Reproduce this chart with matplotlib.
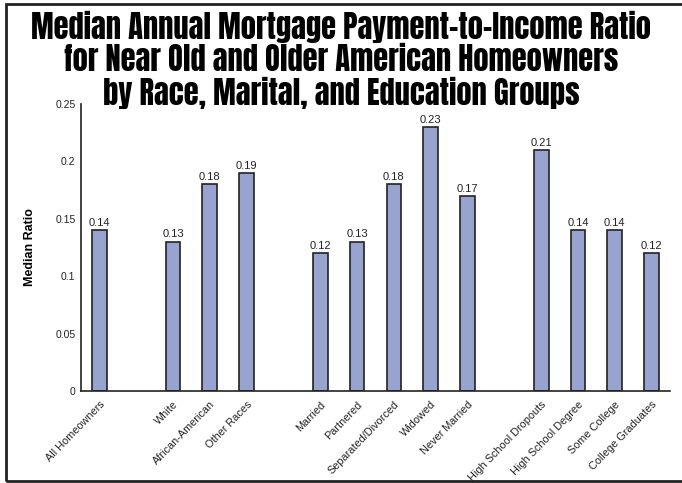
import matplotlib.pyplot as plt
from matplotlib.patches import Rectangle

# Median payment-to-income ratio by group (blank slots separate the groups)
categories = ["All Homeowners", "White", "African-American", "Other Races",
              "Married", "Partnered", "Separated/Divorced", "Widowed", "Never Married",
              "High School Dropouts", "High School Degree", "Some College", "College Graduates"]
slots = [0, 2, 3, 4, 6, 7, 8, 9, 10, 12, 13, 14, 15]
ratios = [0.14, 0.13, 0.18, 0.19, 0.12, 0.13, 0.18, 0.23, 0.17, 0.21, 0.14, 0.14, 0.12]
yticks = [0, 0.05, 0.1, 0.15, 0.2, 0.25]
ytick_labels = ["0", "0.05", "0.1", "0.15", "0.2", "0.25"]

plt.rcParams['font.family'] = ['Liberation Sans', 'DejaVu Sans']

fig = plt.figure(figsize=(6.82, 4.83), dpi=100)
ax = fig.add_axes([0.1188, 0.1905, 0.8636, 0.5942])

ax.bar(slots, ratios, width=0.4, color="#99a3d0", edgecolor="#222222", linewidth=1.2)
for x, v in zip(slots, ratios):
    ax.text(x, v + 0.002, f"{v:.2f}", ha="center", va="bottom", fontsize=8, color="#222222")

ax.set_xlim(-0.5, 15.5)
ax.set_ylim(0, 0.25)
ax.set_yticks(yticks)
ax.set_yticklabels(ytick_labels, fontsize=7.5, color="#222222")
ax.set_xticks(slots)
ax.set_xticklabels(categories, rotation=46, ha="right", rotation_mode="anchor",
                   fontsize=7.8, color="#222222")
ax.tick_params(axis="both", length=0, pad=4)
ax.tick_params(axis="x", pad=6)
for side in ["top", "right"]:
    ax.spines[side].set_visible(False)
for side in ["left", "bottom"]:
    ax.spines[side].set_color("#222222")
    ax.spines[side].set_linewidth(1.2)

ax.set_ylabel("Median Ratio", fontsize=9, fontweight="bold", labelpad=14)

title = ("Median Annual Mortgage Payment-to-Income Ratio\n"
         "for Near Old and Older American Homeowners\n"
         "by Race, Marital, and Education Groups")
fig.text(0.5, 0.876, title, ha="center", va="center", fontsize=22,
         family=["Anton", "Oswald", "Roboto Condensed", "DejaVu Sans"], linespacing=1.04)

# outer frame
fig.patches.append(Rectangle((6 / 682, 2 / 483), 1.2, 1 - 6 / 483, transform=fig.transFigure,
                             fill=False, edgecolor="#222222", linewidth=2))

fig.savefig("out.png", dpi=100)
